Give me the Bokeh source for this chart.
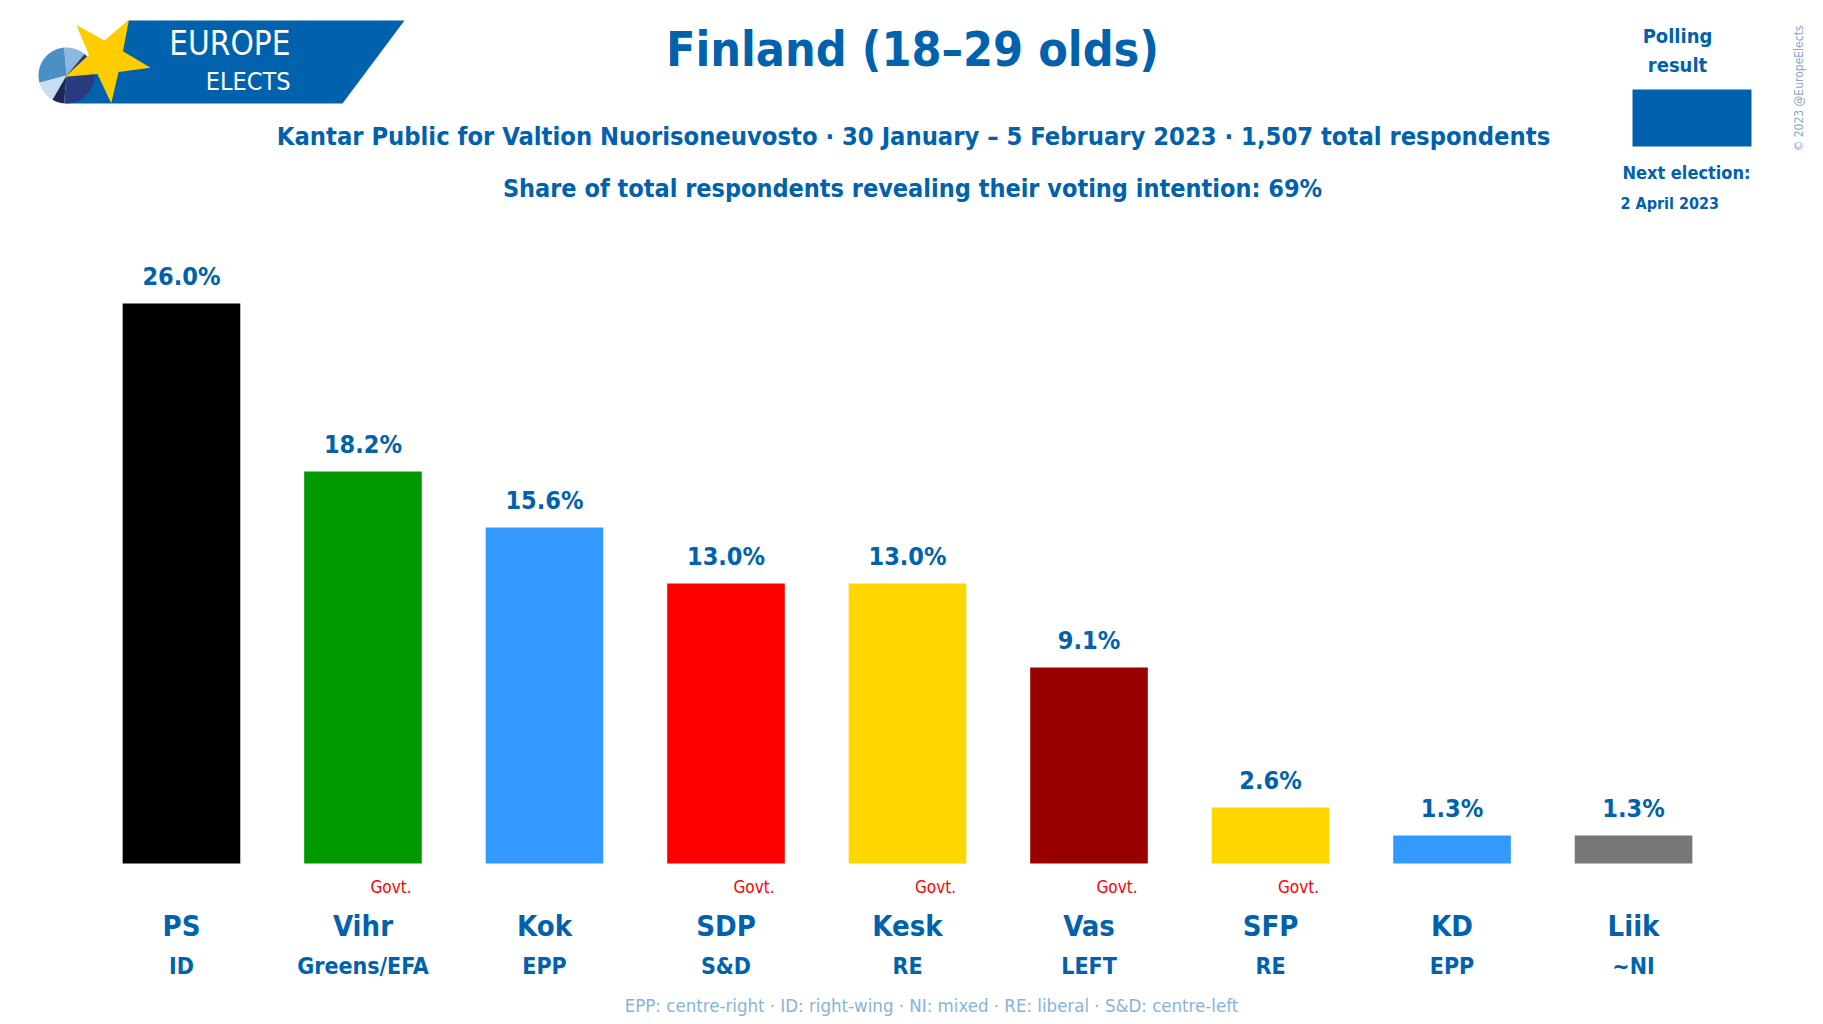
import numpy as np
from bokeh.plotting import figure
from bokeh.models import (ColumnDataSource, FactorRange, Range1d, Label,
                          PolyAnnotation, BoxAnnotation)
from bokeh.core.properties import value
from bokeh.embed import file_html
from bokeh.resources import INLINE

# ---------------- data ----------------
parties = ["PS", "Vihr", "Kok", "SDP", "Kesk", "Vas", "SFP", "KD", "Liik"]
alliances = ["ID", "Greens/EFA", "EPP", "S&D", "RE", "LEFT", "RE", "EPP", "~NI"]
shares = [26.0, 18.2, 15.6, 13.0, 13.0, 9.1, 2.6, 1.3, 1.3]
bar_colors = ["#000000", "#009900", "#3399FF", "#FF0000", "#FFD700",
              "#990000", "#FFD700", "#3399FF", "#777777"]
in_government = [False, True, False, True, True, True, True, False, False]

title_text = "Finland (18\u201329 olds)"
subtitle_1 = ("Kantar Public for Valtion Nuorisoneuvosto \u00b7 30 January \u2013 "
              "5 February 2023 \u00b7 1,507 total respondents")
subtitle_2 = "Share of total respondents revealing their voting intention: 69%"
footer_text = ("EPP: centre-right \u00b7 ID: right-wing \u00b7 NI: mixed \u00b7 "
               "RE: liberal \u00b7 S&D: centre-left")
legend_lines = ["Polling", "result"]
election_lines = ["Next election:", "2 April 2023"]
copyright_text = "\u00a9 2023 @EuropeElects"
govt_text = "Govt."

# ---------------- layout ----------------
W, H = 1820, 1020
RIGHT_BORDER = 6
PX_PER_PCT = 21.54
BASELINE = 863
FONT = "DejaVu Sans Condensed"
BLUE = "#0061AD"
LIGHT = "#86B3DD"


def sx(x):
    return x


def sy(y):
    return H - y


y_start = -(H - BASELINE) / PX_PER_PCT
y_end = y_start + H / PX_PER_PCT

x_range = FactorRange(factors=parties, range_padding=0.497,
                      range_padding_units="absolute")
p = figure(width=W, height=H, x_range=x_range, y_range=Range1d(y_start, y_end),
           output_backend="svg", toolbar_location=None, title=None,
           x_axis_location=None, y_axis_location=None,
           min_border=0, min_border_left=0, min_border_right=RIGHT_BORDER,
           min_border_top=0, min_border_bottom=0)
p.outline_line_color = None
p.background_fill_color = "white"
p.border_fill_color = "white"
p.xgrid.visible = False
p.ygrid.visible = False

src = ColumnDataSource(dict(
    party=parties, alliance=alliances, share=shares, color=bar_colors,
    label=[f"{v:.1f}%" for v in shares]))
gov_parties = [pt for pt, g in zip(parties, in_government) if g]
gov_src = ColumnDataSource(dict(party=gov_parties, text=[govt_text] * len(gov_parties)))

p.vbar(x="party", top="share", bottom=0, width=0.648, fill_color="color",
       line_color=None, source=src)

p.text(x="party", y="share", text="label", source=src, text_align="center",
       text_baseline="alphabetic", y_offset=-27, text_font=value(FONT),
       text_font_style="bold", text_font_size="25px", text_color=BLUE)
p.text(x="party", y=0, text="party", source=src, text_align="center",
       text_baseline="alphabetic", y_offset=62, text_font=value(FONT),
       text_font_style="bold", text_font_size="29px", text_color=BLUE)
p.text(x="party", y=0, text="alliance", source=src, text_align="center",
       text_baseline="alphabetic", y_offset=102, text_font=value(FONT),
       text_font_style="bold", text_font_size="23px", text_color=BLUE)
p.text(x="party", y=0, text="text", source=gov_src, text_align="center",
       text_baseline="alphabetic", x_offset=28, y_offset=23, text_font=value(FONT),
       text_font_size="17px", text_color="#FF0000")


# ---------------- logo ----------------
def poly(points, color):
    p.add_layout(PolyAnnotation(
        xs=[float(sx(a)) for a, b in points], ys=[float(sy(b)) for a, b in points],
        xs_units="screen", ys_units="screen", fill_color=color, fill_alpha=1.0,
        line_color=None, line_alpha=0))


poly([(128, 20), (404, 20), (342, 103), (66, 103)], BLUE)

pie_c, pie_r = (66, 75), 28
pie_slices = [(50, 95, "#8FB8DE"), (95, 195, "#4A90C4"), (195, 240, "#C9DDF0"),
              (240, 265, "#1B2756"), (265, 410, "#293B7E")]
for a0, a1, col in pie_slices:
    ang = np.radians(np.linspace(a0, a1, 40))
    pts = [pie_c] + [(pie_c[0] + pie_r * np.cos(t), pie_c[1] - pie_r * np.sin(t)) for t in ang]
    poly(pts, col)

star_c, star_R, star_r = (106, 58), 45, 18
star_pts = []
for k in range(5):
    ao = np.radians(60 + 72 * k)
    ai = np.radians(96 + 72 * k)
    star_pts.append((star_c[0] + star_R * np.cos(ao), star_c[1] - star_R * np.sin(ao)))
    star_pts.append((star_c[0] + star_r * np.cos(ai), star_c[1] - star_r * np.sin(ai)))
poly(star_pts, "#FFCC00")


def label(x, y, text, size, color=BLUE, bold=True, align="center", angle=0.0,
          baseline="alphabetic"):
    p.add_layout(Label(x=sx(x), y=sy(y), x_units="screen", y_units="screen",
                       text=text, text_font=FONT, text_font_size=f"{size}px",
                       text_font_style="bold" if bold else "normal",
                       text_color=color, text_align=align, text_baseline=baseline,
                       angle=angle))


label(290, 43, "EUROPE", 33, color="white", bold=False, align="right")
label(290, 81, "ELECTS", 25, color="white", bold=False, align="right")

# ---------------- titles ----------------
label(912, 48, title_text, 48)
label(913, 136, subtitle_1, 25.3)
label(912, 188, subtitle_2, 25)
label(931, 1005, footer_text, 18.5, color=LIGHT, bold=False)

# ---------------- legend ----------------
label(1677, 35, legend_lines[0], 20)
label(1677, 64, legend_lines[1], 20)
p.add_layout(BoxAnnotation(left=sx(1632), right=sx(1751), top=sy(89), bottom=sy(146),
                           left_units="screen", right_units="screen",
                           top_units="screen", bottom_units="screen",
                           fill_color=BLUE, fill_alpha=1.0, line_color=None))
label(1622, 172, election_lines[0], 18, align="left")
label(1620, 203, election_lines[1], 16, align="left")
label(1798, 88, copyright_text, 12, color="#8AA6C8", bold=False,
      angle=np.pi / 2, baseline="middle")

open("out.html", "w").write(file_html(p, INLINE, title="Finland (18-29 olds)"))
